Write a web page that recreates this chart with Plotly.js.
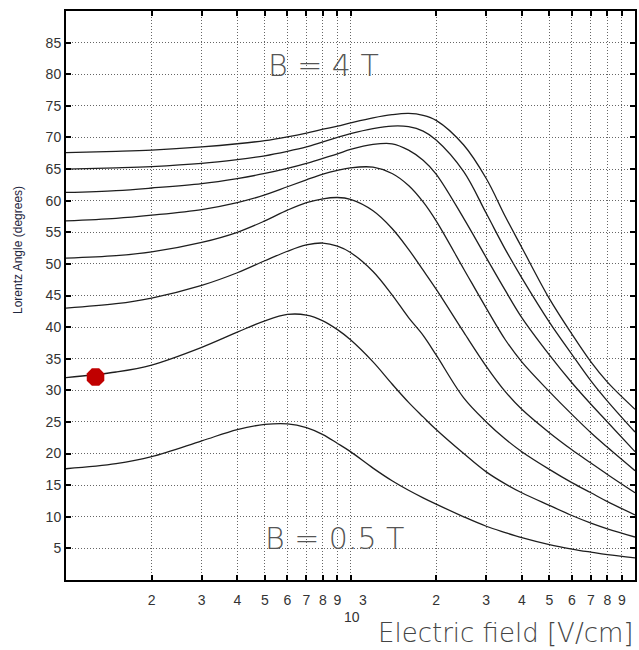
<!DOCTYPE html>
<html>
<head>
<meta charset="utf-8">
<script src="https://cdn.plot.ly/plotly-3.0.1.min.js"></script>
<style>html,body{margin:0;padding:0;background:#fff;}#chart{width:639px;height:650px;}</style>
</head>
<body>
<div id="chart"></div>
<script>
// Electric field [V/cm] (shared sampling) and Lorentz angle [deg] for each magnetic field value
const fieldE = [100, 150, 200, 300, 400, 500, 600, 700, 800, 900, 1000, 1200, 1400, 1600, 1800, 2000, 2500, 3000, 3500, 4000, 5000, 6000, 7000, 8000, 10000];

const angleB05 = [17.6, 18.4, 19.5, 22.0, 23.8, 24.6, 24.7, 24.1, 23.0, 21.6, 20.3, 17.7, 15.7, 14.2, 13.0, 12.0, 10.0, 8.5, 7.5, 6.7, 5.6, 4.9, 4.4, 4.0, 3.5];
const angleB10 = [32.0, 32.9, 34.0, 36.8, 39.2, 41.0, 42.0, 41.9, 41.0, 39.6, 38.0, 34.5, 31.0, 28.1, 25.8, 23.8, 20.0, 17.1, 15.2, 13.8, 11.8, 10.2, 9.0, 8.1, 6.8];
const angleB15 = [43.0, 43.7, 44.6, 46.6, 48.6, 50.5, 52.0, 53.0, 53.3, 52.8, 51.8, 48.8, 45.1, 41.5, 38.7, 35.6, 28.8, 25.0, 22.3, 20.3, 17.5, 15.4, 13.8, 12.4, 10.3];
const angleB20 = [50.9, 51.3, 51.9, 53.4, 55.0, 56.8, 58.5, 59.7, 60.3, 60.5, 60.2, 58.4, 55.6, 52.3, 49.0, 46.0, 39.2, 33.8, 29.8, 27.0, 23.3, 20.6, 18.5, 16.7, 13.8];
const angleB25 = [56.8, 57.2, 57.7, 58.6, 59.7, 60.9, 62.2, 63.3, 64.2, 64.8, 65.2, 65.3, 64.3, 62.4, 59.8, 56.8, 49.2, 43.0, 38.0, 34.5, 29.8, 26.2, 23.3, 21.0, 17.3];
const angleB30 = [61.3, 61.6, 62.0, 62.7, 63.5, 64.3, 65.1, 65.9, 66.7, 67.4, 68.1, 68.9, 69.0, 68.0, 66.4, 64.2, 57.2, 51.0, 45.8, 41.5, 35.6, 31.2, 27.8, 25.0, 20.3];
const angleB35 = [65.0, 65.2, 65.4, 65.9, 66.5, 67.1, 67.8, 68.5, 69.3, 70.0, 70.6, 71.4, 71.8, 71.7, 71.0, 69.6, 64.6, 58.0, 52.3, 47.8, 40.8, 35.7, 31.5, 28.3, 23.4];
const angleB40 = [67.6, 67.8, 68.0, 68.5, 69.0, 69.5, 70.1, 70.7, 71.3, 71.8, 72.3, 73.1, 73.6, 73.8, 73.5, 72.7, 68.8, 63.5, 57.5, 52.6, 44.5, 38.9, 34.5, 31.3, 27.0];

// Highlighted point
const markE = [127];
const markA = [32.1];

// Tick labels
const xTickVals = [200, 300, 400, 500, 600, 700, 800, 900, 1000, 2000, 3000, 4000, 5000, 6000, 7000, 8000, 9000];
const xTickText = ['2', '3', '4', '5', '6', '7', '8', '9', '', '2', '3', '4', '5', '6', '7', '8', '9'];
const yTickVals = [5, 10, 15, 20, 25, 30, 35, 40, 45, 50, 55, 60, 65, 70, 75, 80, 85];

const series = [angleB05, angleB10, angleB15, angleB20, angleB25, angleB30, angleB35, angleB40];

const traces = series.map(a => ({
  x: fieldE, y: a, type: 'scatter', mode: 'lines',
  line: {color: '#1e1e1e', width: 1.3, shape: 'spline', smoothing: 1},
  hoverinfo: 'skip', showlegend: false
}));
traces.push({
  x: markE, y: markA, type: 'scatter', mode: 'markers',
  marker: {symbol: 'octagon', size: 19, color: '#c00000', line: {width: 0}},
  showlegend: false
});

const FONT = 'Liberation Sans, Arial, Helvetica, sans-serif';
const THIN = 'DejaVu Sans ExtraLight, DejaVu Sans Light, DejaVu Sans, sans-serif';
const L = 66, R = 635, T = 11, B = 580;
const px = v => (v - L) / (R - L);
const py = v => (B - v) / (B - T);

const layout = {
  width: 639, height: 650,
  margin: {l: L, r: 639 - R, t: T, b: 650 - B, pad: 0},
  paper_bgcolor: '#ffffff', plot_bgcolor: '#ffffff',
  showlegend: false,
  xaxis: {
    type: 'log', range: [2, 4], autorange: false,
    tickmode: 'array', tickvals: xTickVals, ticktext: xTickText,
    ticks: 'inside', ticklen: 5, tickwidth: 2, tickcolor: '#000',
    showline: true, linecolor: '#000', linewidth: 2, mirror: 'ticks',
    showgrid: true, gridcolor: '#666', gridwidth: 1, griddash: '1px,2px',
    zeroline: false, ticklabelstandoff: 6,
    tickfont: {family: FONT, size: 14, color: '#333'}
  },
  yaxis: {
    range: [0, 90], autorange: false,
    tickmode: 'array', tickvals: yTickVals,
    ticks: 'inside', ticklen: 5, tickwidth: 2, tickcolor: '#000',
    showline: true, linecolor: '#000', linewidth: 2, mirror: 'ticks',
    showgrid: true, gridcolor: '#666', gridwidth: 1, griddash: '1px,2px',
    zeroline: false,
    tickfont: {family: FONT, size: 14, color: '#333'}
  },
  annotations: [
    {xref: 'paper', yref: 'paper', x: px(266), y: py(66), xanchor: 'left', yanchor: 'middle',
     text: 'B = 4 T', showarrow: false,
     font: {family: THIN, size: 30, color: '#555'}},
    {xref: 'paper', yref: 'paper', x: px(263), y: py(538), xanchor: 'left', yanchor: 'middle',
     text: 'B = 0.5 T', showarrow: false,
     font: {family: THIN, size: 30, color: '#555'}},
    {xref: 'paper', yref: 'paper', x: px(635), y: py(633), xanchor: 'right', yanchor: 'middle',
     text: 'Electric field [V/cm]', showarrow: false,
     font: {family: THIN, size: 26, color: '#444'}},
    {xref: 'paper', yref: 'paper', x: px(352), y: py(617), xanchor: 'center', yanchor: 'middle',
     text: '10', showarrow: false, font: {family: FONT, size: 14, color: '#333'}},
    {xref: 'paper', yref: 'paper', x: px(363), y: py(600), xanchor: 'center', yanchor: 'middle',
     text: '3', showarrow: false, font: {family: FONT, size: 14, color: '#333'}},
    {xref: 'paper', yref: 'paper', x: px(18), y: py(250), xanchor: 'center', yanchor: 'middle',
     text: 'Lorentz Angle (degrees)', textangle: -90, showarrow: false,
     font: {family: FONT, size: 12, color: '#1f2740'}}
  ]
};

Plotly.newPlot('chart', traces, layout, {staticPlot: true, displayModeBar: false});
</script>
</body>
</html>
